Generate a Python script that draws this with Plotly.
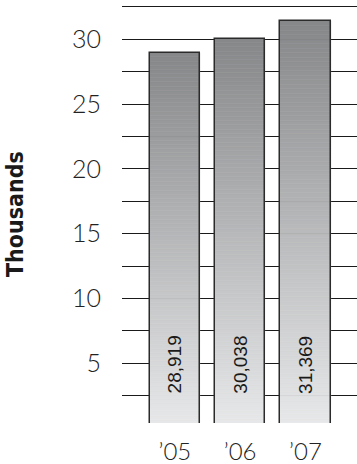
import plotly.graph_objects as go

# Annual totals, in thousands
years = ["\u201905", "\u201906", "\u201907"]
totals = [28.919, 30.038, 31.369]
total_labels = ["28,919", "30,038", "31,369"]
tick_values = [5, 10, 15, 20, 25, 30]

TOP_RGB = (0x86, 0x87, 0x89)
BOTTOM_RGB = (0xe8, 0xe9, 0xea)
SLICES = 90
BAR_WIDTH = 0.77

fig = go.Figure()

# Vertical gradient: each bar is built from thin slices, dark at the top, light at the base
for k in range(SLICES):
    t = (k + 0.5) / SLICES
    rgb = tuple(round(b + (a - b) * t) for a, b in zip(TOP_RGB, BOTTOM_RGB))
    col = "rgb(%d,%d,%d)" % rgb
    fig.add_trace(go.Bar(
        x=years,
        y=[v / SLICES for v in totals],
        base=[v * k / SLICES for v in totals],
        width=BAR_WIDTH,
        marker=dict(color=col, line=dict(color=col, width=0.6)),
        hoverinfo="skip",
        showlegend=False,
    ))

# Outline of each bar
fig.add_trace(go.Bar(
    x=years,
    y=totals,
    width=BAR_WIDTH,
    marker=dict(color="rgba(0,0,0,0)", line=dict(color="#2b2b2b", width=1.5)),
    showlegend=False,
))

# Value labels written upward inside the bars
for yr, lab in zip(years, total_labels):
    fig.add_annotation(
        x=yr, y=4.9, text=lab, textangle=-90, showarrow=False,
        xanchor="center", yanchor="middle",
        font=dict(family="Liberation Sans, Arial, sans-serif", size=19, color="#1a1a1a"),
    )

# Axis title
fig.add_annotation(
    xref="paper", yref="paper", x=-0.455, y=0.5,
    text="<b>Thousands</b>", textangle=-90, showarrow=False,
    xanchor="center", yanchor="middle",
    font=dict(family="DejaVu Sans Condensed, Liberation Sans, sans-serif",
              size=23, color="#1a1a1a"),
)

light_font = dict(family="Lato, Open Sans, Liberation Sans, sans-serif", size=25,
                  color="#222222", weight=300)

fig.update_layout(
    width=357, height=464,
    margin=dict(l=122, r=0, t=5, b=41),
    paper_bgcolor="white", plot_bgcolor="white",
    barmode="overlay",
    bargap=0,
    xaxis=dict(
        type="category",
        range=[-0.81, 2.79],
        automargin=False,
        showgrid=False, zeroline=False, showline=False,
        ticks="outside", ticklen=7, tickcolor="rgba(0,0,0,0)",
        tickfont=dict(family="Lato, Open Sans, Liberation Sans, sans-serif", size=24,
                      color="#222222", weight=300),
    ),
    yaxis=dict(
        range=[0.386, 32.64],
        automargin=False,
        tickvals=tick_values,
        showgrid=True, gridcolor="#1a1a1a", gridwidth=1.3,
        zeroline=False, showline=False,
        ticks="outside", ticklen=15, tickcolor="rgba(0,0,0,0)",
        tickfont=light_font,
        minor=dict(dtick=2.5, tick0=0, showgrid=True, gridcolor="#1a1a1a", gridwidth=1.3),
    ),
)

fig.write_html("out.html")
